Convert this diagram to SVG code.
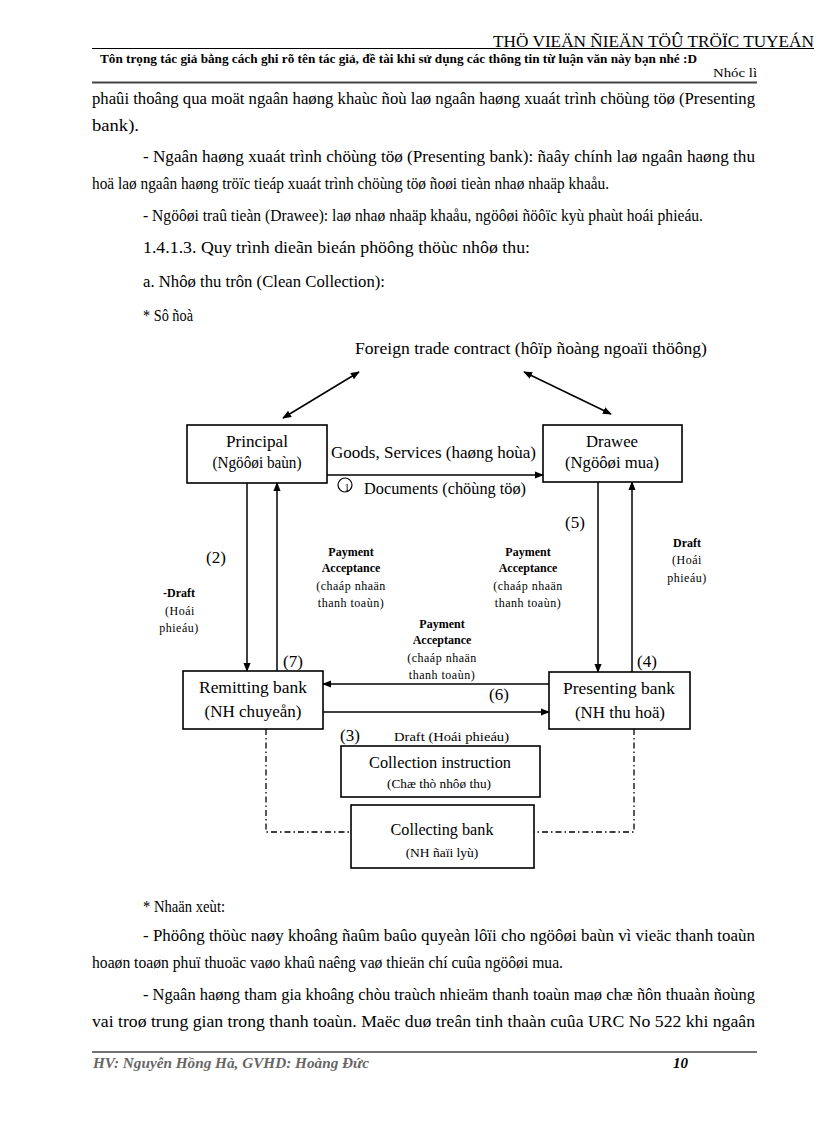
<svg xmlns="http://www.w3.org/2000/svg" width="816" height="1123" viewBox="0 0 816 1123">
<style>
text{font-family:"Liberation Serif","Times New Roman",serif;fill:#000}
.body{font-size:17px}
.hd{font-size:17px}
.bx{fill:#fff;stroke:#000;stroke-width:1.6}
.ln{stroke:#000;stroke-width:1.5;fill:none}
.dd{stroke:#000;stroke-width:1.3;fill:none;stroke-dasharray:6 3 1.5 3}
.n{font-size:17px}
.lb{font-size:12px;font-weight:bold;text-anchor:middle}
.ls{font-size:12px;text-anchor:middle;letter-spacing:0.5px}
.c{text-anchor:middle}
</style>
<defs>
<marker id="ah" viewBox="0 0 10 10" refX="9" refY="5" markerWidth="9" markerHeight="9" orient="auto-start-reverse" markerUnits="userSpaceOnUse"><path d="M0,1 L10,5 L0,9 z" fill="#000"/></marker>
</defs>
<rect width="816" height="1123" fill="#fff"/>

<!-- header -->
<g id="header">
<text x="493" y="47" class="hd" textLength="321" lengthAdjust="spacingAndGlyphs">THÖ VIEÄN ÑIEÄN TÖÛ TRÖÏC TUYEÁN</text>
<line x1="92" y1="48.5" x2="814" y2="48.5" stroke="#000" stroke-width="1"/>
<text x="100" y="63" font-size="12" font-weight="bold" textLength="597" lengthAdjust="spacingAndGlyphs">Tôn trọng tác giả bằng cách ghi rõ tên tác giả, đề tài khi sử dụng các thông tin từ luận văn này bạn nhé :D</text>
<text x="757" y="77" font-size="13" text-anchor="end" textLength="44" lengthAdjust="spacingAndGlyphs">Nhóc lì</text>
<line x1="92" y1="82.5" x2="757" y2="82.5" stroke="#444" stroke-width="2"/>
</g>

<!-- body text top -->
<g id="text-top" class="body">
<text x="92" y="104" textLength="663" lengthAdjust="spacingAndGlyphs">phaûi thoâng qua moät ngaân haøng khaùc ñoù laø ngaân haøng xuaát trình chöùng töø (Presenting</text>
<text x="92" y="131" textLength="47" lengthAdjust="spacingAndGlyphs">bank).</text>
<text x="143" y="162" textLength="612" lengthAdjust="spacingAndGlyphs">- Ngaân haøng xuaát trình chöùng töø (Presenting bank): ñaây chính laø ngaân haøng thu</text>
<text x="92" y="189" textLength="517" lengthAdjust="spacingAndGlyphs">hoä laø ngaân haøng tröïc tieáp xuaát trình chöùng töø ñoøi tieàn nhaø nhaäp khaåu.</text>
<text x="143" y="221" textLength="560" lengthAdjust="spacingAndGlyphs">- Ngöôøi traû tieàn (Drawee): laø nhaø nhaäp khaåu, ngöôøi ñöôïc kyù phaùt hoái phieáu.</text>
<text x="143" y="253" textLength="387" lengthAdjust="spacingAndGlyphs">1.4.1.3. Quy trình dieãn bieán phöông thöùc nhôø thu:</text>
<text x="143" y="287" textLength="242" lengthAdjust="spacingAndGlyphs">a. Nhôø thu trôn (Clean Collection):</text>
<text x="143" y="321" textLength="50" lengthAdjust="spacingAndGlyphs">* Sô ñoà</text>
</g>

<!-- connectors -->
<g id="connectors">
<line class="ln" x1="283" y1="418" x2="359" y2="372" marker-start="url(#ah)" marker-end="url(#ah)"/>
<line class="ln" x1="524" y1="372" x2="611" y2="414" marker-start="url(#ah)" marker-end="url(#ah)"/>
<line class="ln" x1="327" y1="475" x2="543" y2="475" marker-end="url(#ah)"/>
<line class="ln" x1="247" y1="483" x2="247" y2="671" marker-end="url(#ah)"/>
<line class="ln" x1="277" y1="671" x2="277" y2="483" marker-end="url(#ah)"/>
<line class="ln" x1="598" y1="482" x2="598" y2="672" marker-end="url(#ah)"/>
<line class="ln" x1="632" y1="672" x2="632" y2="482" marker-end="url(#ah)"/>
<line class="ln" x1="549" y1="684" x2="323" y2="684" marker-end="url(#ah)"/>
<line class="ln" x1="323" y1="712" x2="549" y2="712" marker-end="url(#ah)"/>
<polyline class="dd" points="266,729 266,832 351,832"/>
<polyline class="dd" points="634,729 634,832 534,832"/>
<circle cx="345" cy="485" r="7" fill="none" stroke="#000" stroke-width="1.2"/>
<text x="347" y="491" font-size="10" class="c">1</text>
</g>

<!-- diagram labels -->
<g id="labels">
<text x="355" y="354" class="n" textLength="352" lengthAdjust="spacingAndGlyphs">Foreign trade contract (hôïp ñoàng ngoaïi thöông)</text>
<text x="331" y="458" class="n" textLength="205" lengthAdjust="spacingAndGlyphs">Goods, Services (haøng hoùa)</text>
<text x="364" y="494" class="n" textLength="162" lengthAdjust="spacingAndGlyphs">Documents (chöùng töø)</text>
<text x="216" y="563" class="n c">(2)</text>
<text x="575" y="528" class="n c">(5)</text>
<text x="293" y="667" class="n c">(7)</text>
<text x="647" y="667" class="n c">(4)</text>
<text x="499" y="700" class="n c">(6)</text>
<text x="350" y="741" class="n c">(3)</text>
<text x="394" y="741" font-size="13.5" textLength="115" lengthAdjust="spacingAndGlyphs">Draft (Hoái phieáu)</text>

<text x="351" y="556" class="lb">Payment</text>
<text x="351" y="572" class="lb">Acceptance</text>
<text x="351" y="590" class="ls">(chaáp nhaän</text>
<text x="351" y="607" class="ls">thanh toaùn)</text>

<text x="528" y="556" class="lb">Payment</text>
<text x="528" y="572" class="lb">Acceptance</text>
<text x="528" y="590" class="ls">(chaáp nhaän</text>
<text x="528" y="607" class="ls">thanh toaùn)</text>

<text x="442" y="628" class="lb">Payment</text>
<text x="442" y="644" class="lb">Acceptance</text>
<text x="442" y="662" class="ls">(chaáp nhaän</text>
<text x="442" y="679" class="ls">thanh toaùn)</text>

<text x="179" y="597" class="lb">-Draft</text>
<text x="180" y="615" class="ls">(Hoái</text>
<text x="179" y="632" class="ls">phieáu)</text>

<text x="687" y="547" class="lb" font-size="14">Draft</text>
<text x="687" y="564" class="ls">(Hoái</text>
<text x="687" y="582" class="ls">phieáu)</text>
</g>

<!-- nodes -->
<g id="principal">
<rect class="bx" x="187" y="425" width="140" height="58"/>
<text x="257" y="447" class="n c" textLength="62" lengthAdjust="spacingAndGlyphs">Principal</text>
<text x="257" y="468" class="n c" textLength="89" lengthAdjust="spacingAndGlyphs">(Ngöôøi baùn)</text>
</g>
<g id="drawee">
<rect class="bx" x="543" y="425" width="139" height="57"/>
<text x="612" y="447" class="n c" textLength="52" lengthAdjust="spacingAndGlyphs">Drawee</text>
<text x="612" y="468" class="n c" textLength="94" lengthAdjust="spacingAndGlyphs">(Ngöôøi mua)</text>
</g>
<g id="remitting">
<rect class="bx" x="183" y="671" width="140" height="58"/>
<text x="253" y="693" class="n c" textLength="108" lengthAdjust="spacingAndGlyphs">Remitting bank</text>
<text x="253" y="717" class="n c" textLength="97" lengthAdjust="spacingAndGlyphs">(NH chuyeån)</text>
</g>
<g id="presenting">
<rect class="bx" x="549" y="672" width="141" height="57"/>
<text x="619" y="694" class="n c" textLength="112" lengthAdjust="spacingAndGlyphs">Presenting bank</text>
<text x="620" y="718" class="n c" textLength="90" lengthAdjust="spacingAndGlyphs">(NH thu hoä)</text>
</g>
<g id="instruction">
<rect class="bx" x="341" y="746" width="199" height="51"/>
<text x="440" y="768" font-size="16" class="c" textLength="142" lengthAdjust="spacingAndGlyphs">Collection instruction</text>
<text x="439" y="788" font-size="13.5" class="c" textLength="104" lengthAdjust="spacingAndGlyphs">(Chæ thò nhôø thu)</text>
</g>
<g id="collecting">
<rect class="bx" x="351" y="805" width="183" height="63"/>
<text x="442" y="835" font-size="16" class="c" textLength="103" lengthAdjust="spacingAndGlyphs">Collecting bank</text>
<text x="442" y="857" font-size="13.5" class="c">(NH ñaïi lyù)</text>
</g>

<!-- body text bottom -->
<g id="text-bottom" class="body">
<text x="143" y="912" textLength="82" lengthAdjust="spacingAndGlyphs">* Nhaän xeùt:</text>
<text x="143" y="941" textLength="612" lengthAdjust="spacingAndGlyphs">- Phöông thöùc naøy khoâng ñaûm baûo quyeàn lôïi cho ngöôøi baùn vì vieäc thanh toaùn</text>
<text x="92" y="968" textLength="471" lengthAdjust="spacingAndGlyphs">hoaøn toaøn phuï thuoäc vaøo khaû naêng vaø thieän chí cuûa ngöôøi mua.</text>
<text x="143" y="1000" textLength="612" lengthAdjust="spacingAndGlyphs">- Ngaân haøng tham gia khoâng chòu traùch nhieäm thanh toaùn maø chæ ñôn thuaàn ñoùng</text>
<text x="92" y="1027" textLength="663" lengthAdjust="spacingAndGlyphs">vai troø trung gian trong thanh toaùn. Maëc duø treân tinh thaàn cuûa URC No 522 khi ngaân</text>
</g>

<!-- footer -->
<g id="footer">
<line x1="92" y1="1052" x2="757" y2="1052" stroke="#444" stroke-width="1.5"/>
<text x="93" y="1068" font-size="15" font-style="italic" font-weight="bold" style="fill:#666" textLength="276" lengthAdjust="spacingAndGlyphs">HV: Nguyễn Hồng Hà, GVHD: Hoàng Đức</text>
<text x="673" y="1068" font-size="15" font-style="italic" font-weight="bold">10</text>
</g>
</svg>
